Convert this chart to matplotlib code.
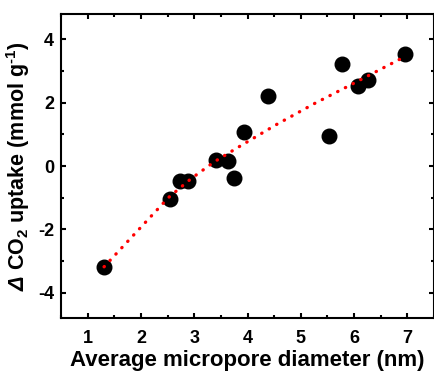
import matplotlib
matplotlib.use("Agg")
import matplotlib.pyplot as plt
from matplotlib.ticker import MultipleLocator

# data
diameter = [1.31, 2.54, 2.73, 2.89, 3.41, 3.63, 3.75, 3.94, 4.39, 5.53, 5.77, 6.07, 6.26, 6.95]
uptake = [-3.19, -1.03, -0.46, -0.46, 0.19, 0.15, -0.39, 1.07, 2.22, 0.96, 3.21, 2.52, 2.73, 3.53]

# fitted trend line
fit_x = [1.31, 2.52, 2.94, 3.38, 3.85, 4.54, 5.26, 5.86, 6.93]
fit_y = [-3.18, -0.99, -0.40, 0.14, 0.62, 1.31, 1.98, 2.50, 3.44]

plt.rcParams["font.family"] = ["Liberation Sans", "DejaVu Sans"]
plt.rcParams["font.weight"] = "bold"
plt.rcParams["axes.unicode_minus"] = False
plt.rcParams["mathtext.fontset"] = "custom"
plt.rcParams["mathtext.rm"] = "Liberation Sans:bold"
plt.rcParams["mathtext.sf"] = "Liberation Sans:italic:bold"
plt.rcParams["mathtext.bf"] = "Liberation Sans:bold"

fig = plt.figure(figsize=(4.35, 3.72), dpi=100)
ax = fig.add_axes([0.140, 0.145, 0.858, 0.817])

ax.scatter(diameter, uptake, s=110, color="black", zorder=2)
ax.plot(fit_x, fit_y, color="red", lw=2.4, linestyle=(0, (0.1, 2.5)),
        dash_capstyle="round", zorder=3)

ax.set_xlim(0.5, 7.5)
ax.set_ylim(-4.8, 4.8)
ax.xaxis.set_major_locator(MultipleLocator(1))
ax.xaxis.set_minor_locator(MultipleLocator(0.5))
ax.yaxis.set_major_locator(MultipleLocator(2))
ax.yaxis.set_minor_locator(MultipleLocator(1))
ax.tick_params(which="both", direction="in", top=True, right=True, width=1.5)
ax.tick_params(which="major", length=3.5, labelsize=13)
ax.tick_params(axis="x", which="major", pad=8.5)
ax.tick_params(axis="y", which="major", pad=5)
ax.tick_params(which="minor", length=2)
for s in ax.spines.values():
    s.set_linewidth(1.5)

ax.set_xlabel("Average micropore diameter (nm)", fontsize=16, fontweight="bold", labelpad=2)
ax.set_ylabel(r"$\mathsf{Δ}$ CO$_2$ uptake (mmol g$^{\text{-1}}$)", fontsize=15.5,
              fontweight="bold", labelpad=4)

fig.savefig("out.png", dpi=100)
